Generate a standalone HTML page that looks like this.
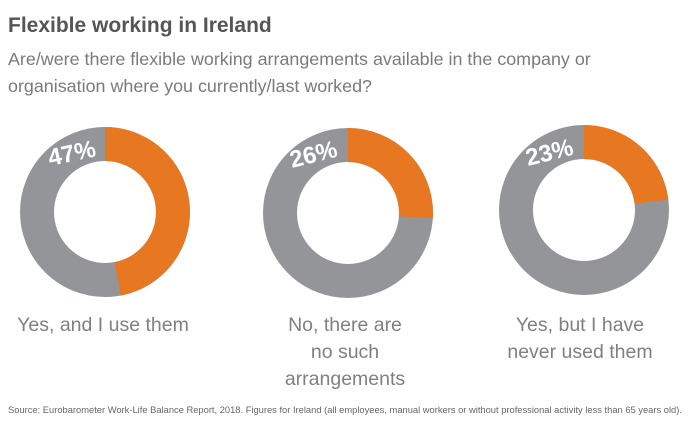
<!DOCTYPE html>
<html><head><style>
body{margin:0;width:692px;height:437px;background:#fff;font-family:"Liberation Sans",sans-serif;position:relative;overflow:hidden}
.t{position:absolute;left:8px;top:14px;font-size:21px;font-weight:bold;color:#555}
.s{position:absolute;left:8px;top:46px;font-size:17.9px;line-height:27px;color:#7a7a7a}
.l{position:absolute;font-size:19.5px;line-height:27px;color:#808080;text-align:center;width:240px}
.src{position:absolute;left:8px;top:405px;font-size:9.35px;color:#666}
</style></head><body>
<div class="t">Flexible working in Ireland</div>
<div class="s">Are/were there flexible working arrangements available in the company or<br>organisation where you currently/last worked?</div>
<svg width="692" height="437" style="position:absolute;left:0;top:0">
<g fill="none" stroke-width="34">
<circle cx="105" cy="212" r="68" stroke="#939598"/>
<circle cx="105" cy="212" r="68" stroke="#E87722" stroke-dasharray="200.8 500" transform="rotate(-90 105 212)"/>
<circle cx="348" cy="213" r="68" stroke="#939598"/>
<circle cx="348" cy="213" r="68" stroke="#E87722" stroke-dasharray="111.1 500" transform="rotate(-90 348 213)"/>
<circle cx="584" cy="210" r="68" stroke="#939598"/>
<circle cx="584" cy="210" r="68" stroke="#E87722" stroke-dasharray="98.3 500" transform="rotate(-90 584 210)"/>
</g>
<g fill="#fff" font-size="24" font-weight="bold" font-family="Liberation Sans, sans-serif">
<text x="50" y="166" transform="rotate(-12 50 166)">47%</text>
<text x="292" y="168" transform="rotate(-14 292 168)">26%</text>
<text x="528" y="166" transform="rotate(-14 528 166)">23%</text>
</g>
</svg>
<div class="l" style="left:-17px;top:312px">Yes, and I use them</div>
<div class="l" style="left:225px;top:312px">No, there are<br>no such<br>arrangements</div>
<div class="l" style="left:460px;top:312px">Yes, but I have<br>never used them</div>
<div class="src">Source: Eurobarometer Work-Life Balance Report, 2018. Figures for Ireland (all employees, manual workers or without professional activity less than 65 years old).</div>
</body></html>
